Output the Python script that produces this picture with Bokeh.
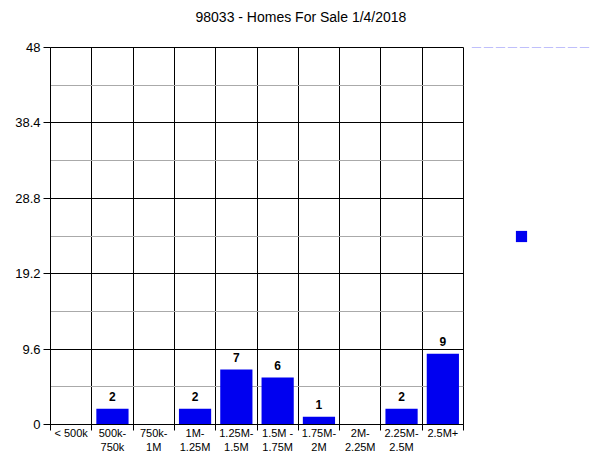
from bokeh.plotting import figure
from bokeh.layouts import row
from bokeh.models import (FixedTicker, Legend, LegendItem, Title, ColumnDataSource,
                          Range1d)
from bokeh.core.properties import value
from bokeh.embed import file_html
from bokeh.resources import INLINE

title_text = "98033 - Homes For Sale 1/4/2018"
categories = ["< 500k", "500k-\n750k", "750k-\n1M", "1M-\n1.25M", "1.25M-\n1.5M",
              "1.5M -\n1.75M", "1.75M-\n2M", "2M-\n2.25M", "2.25M-\n2.5M", "2.5M+"]
counts = [0, 2, 0, 2, 7, 6, 1, 0, 2, 9]
y_ticks = [0, 9.6, 19.2, 28.8, 38.4, 48]
y_tick_labels = ["0", "9.6", "19.2", "28.8", "38.4", "48"]
y_minor = [4.8, 14.4, 24.0, 33.6, 43.2]

FONT = "Liberation Sans"
BLUE = "#0000F0"

n = len(categories)
xs = [i + 0.5 for i in range(n)]

p = figure(width=470, height=460, output_backend="svg", toolbar_location=None, tools="",
           x_range=Range1d(0, n), y_range=Range1d(0, 48),
           min_border_left=50, min_border_right=7, min_border_top=47,
           min_border_bottom=36)
p.title = None
# spacer between title and frame, then the title itself (stacked outward)
p.add_layout(Title(text=" ", text_font_size="10px", standoff=10), "above")
p.add_layout(Title(text=title_text, align="left", offset=145, standoff=0,
                   text_font=FONT, text_font_size="14px", text_font_style="normal",
                   text_color="#000000"), "above")

src = ColumnDataSource(dict(x=xs, top=counts))
bars = p.vbar(x="x", top="top", width=0.78, source=src, fill_color=BLUE, line_color=None)

lab = [(x, c) for x, c in zip(xs, counts) if c > 0]
p.text(x=[a for a, _ in lab], y=[b for _, b in lab], text=[str(b) for _, b in lab],
       text_font=value(FONT), text_font_size="12px", text_font_style="bold",
       text_align="center", text_baseline="alphabetic", y_offset=-12, text_color="#000000")

# x axis
p.xaxis.ticker = FixedTicker(ticks=xs, minor_ticks=list(range(n + 1)))
p.xaxis.major_label_overrides = {x: c for x, c in zip(xs, categories)}
p.xaxis.major_tick_out = 0
p.xaxis.major_tick_in = 0
p.xaxis.minor_tick_out = 6
p.xaxis.minor_tick_in = 0
p.xaxis.major_label_standoff = -4
p.xaxis.major_label_text_font = FONT
p.xaxis.major_label_text_font_size = "11px"
p.xaxis.major_label_text_color = "#000000"
p.xaxis.axis_line_color = "#000000"
p.xaxis.minor_tick_line_color = "#000000"

# y axis
p.yaxis.ticker = FixedTicker(ticks=y_ticks, minor_ticks=y_minor)
p.yaxis.major_label_overrides = {t: l for t, l in zip(y_ticks, y_tick_labels)}
p.yaxis.major_tick_out = 7
p.yaxis.major_tick_in = 0
p.yaxis.minor_tick_out = 0
p.yaxis.minor_tick_in = 0
p.yaxis.major_label_standoff = 3
p.yaxis.major_label_text_font = FONT
p.yaxis.major_label_text_font_size = "13px"
p.yaxis.major_label_text_color = "#000000"
p.yaxis.axis_line_color = "#000000"
p.yaxis.major_tick_line_color = "#000000"

# grids
p.xgrid.ticker = FixedTicker(ticks=list(range(n + 1)))
p.xgrid.grid_line_color = "#000000"
p.xgrid.grid_line_alpha = 1.0
p.ygrid.ticker = FixedTicker(ticks=y_ticks, minor_ticks=y_minor)
p.ygrid.grid_line_color = "#000000"
p.ygrid.grid_line_alpha = 1.0
p.ygrid.minor_grid_line_color = "#AAAAAA"

p.outline_line_color = "#000000"
p.outline_line_alpha = 1.0
p.background_fill_color = "white"
p.border_fill_color = "white"

# side panel holding the legend key (same series; its ranges keep the bars out of view)
q = figure(width=120, height=460, output_backend="svg", toolbar_location=None, tools="",
           x_range=Range1d(0, n), y_range=Range1d(-2, -1),
           min_border_left=0, min_border_right=0, min_border_top=4, min_border_bottom=0)
q.title = None
q.axis.visible = False
q.grid.visible = False
q.outline_line_color = None
q.background_fill_color = "white"
q.border_fill_color = "white"
key = q.vbar(x="x", top="top", width=0.78, source=src, fill_color=BLUE, line_color=None)
legend = Legend(items=[LegendItem(label=" ", renderers=[key])],
                location="center_left", padding=0, margin=44, spacing=0,
                glyph_width=14, glyph_height=14, label_standoff=0,
                label_text_font_size="1px", label_width=0, label_height=0,
                border_line_color=None, background_fill_alpha=0)
q.add_layout(legend, "center")

open("out.html", "w").write(file_html(row(p, q, spacing=0), INLINE))
